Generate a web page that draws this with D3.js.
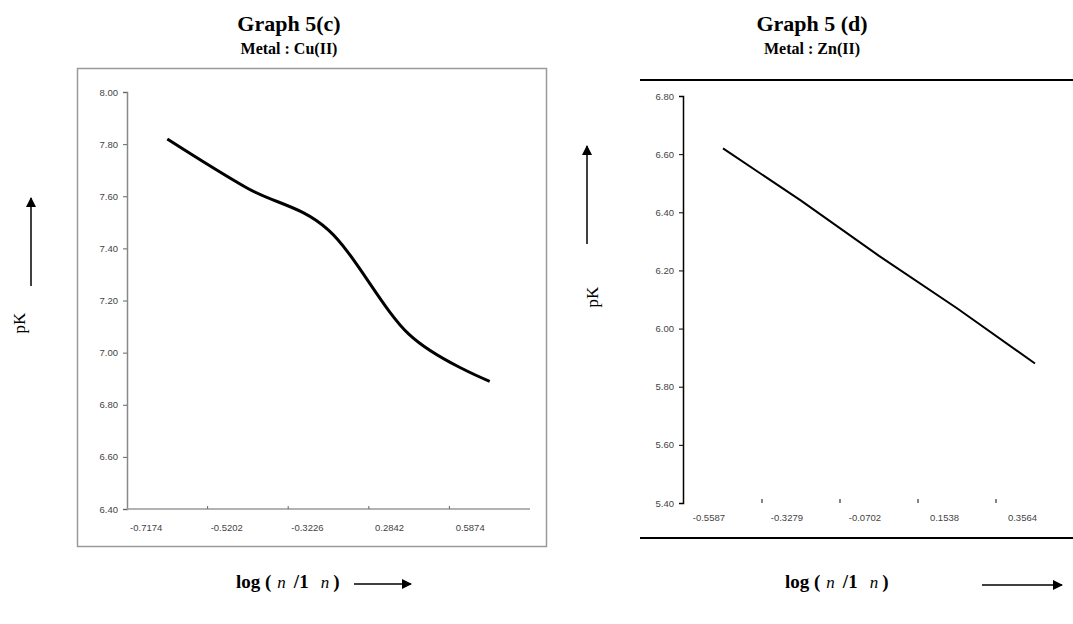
<!DOCTYPE html>
<html><head><meta charset="utf-8">
<script src="https://cdn.jsdelivr.net/npm/d3@7"></script>
<style>body{margin:0;background:#fff}</style>
</head><body>
<svg id="c" width="1073" height="624"></svg>
<script>
const cuCategories = ["-0.7174", "-0.5202", "-0.3226", "0.2842", "0.5874"];
const cuValues = [7.82, 7.63, 7.47, 7.07, 6.89];
const cuTicks = [8.00, 7.80, 7.60, 7.40, 7.20, 7.00, 6.80, 6.60, 6.40];

const znCategories = ["-0.5587", "-0.3279", "-0.0702", "0.1538", "0.3564"];
const znValues = [6.62, 6.44, 6.25, 6.07, 5.88];
const znTicks = [6.80, 6.60, 6.40, 6.20, 6.00, 5.80, 5.60, 5.40];

const svg = d3.select("#c");
const serif = "'Liberation Serif','DejaVu Serif',serif";
const sans = "'Liberation Sans',Arial,sans-serif";

svg.append("defs").append("marker").attr("id","ah").attr("viewBox","0 0 10 10")
  .attr("refX",9).attr("refY",5).attr("markerWidth",10).attr("markerHeight",10)
  .attr("markerUnits","userSpaceOnUse").attr("orient","auto")
  .append("path").attr("d","M0,0L10,5L0,10z").attr("fill","#000");

function arrow(x1,y1,x2,y2,w){
  svg.append("line").attr("x1",x1).attr("y1",y1).attr("x2",x2).attr("y2",y2)
    .attr("stroke","#000").attr("stroke-width",w||1.5).attr("marker-end","url(#ah)");
}

function titles(cx, t1, t2){
  svg.append("text").attr("x",cx).attr("y",31).attr("text-anchor","middle")
    .attr("font-family",serif).attr("font-weight","bold").attr("font-size",22).text(t1);
  svg.append("text").attr("x",cx).attr("y",54).attr("text-anchor","middle")
    .attr("font-family",serif).attr("font-weight","bold").attr("font-size",16).text(t2);
}

function xlabel(x){
  const t = svg.append("text").attr("x",x).attr("y",588)
    .attr("font-family",serif).attr("font-weight","bold").attr("font-size",19);
  t.append("tspan").text("log (");
  t.append("tspan").attr("dx",6).attr("font-style","italic").attr("font-weight","normal").attr("font-size",17).text("n");
  t.append("tspan").attr("dx",8).text("/1");
  t.append("tspan").attr("dx",12).attr("font-style","italic").attr("font-weight","normal").attr("font-size",17).text("n");
  t.append("tspan").attr("dx",4).text(")");
}

function ylabel(x,y){
  svg.append("text").attr("transform",`translate(${x},${y}) rotate(-90)`)
    .attr("text-anchor","middle").attr("font-family",serif).attr("font-size",17).text("pK");
}

// ---------- Left chart: Cu(II) ----------
titles(289, "Graph 5(c)", "Metal : Cu(II)");
svg.append("rect").attr("x",77.5).attr("y",68.5).attr("width",469).attr("height",478)
  .attr("fill","none").attr("stroke","#9a9a9a").attr("stroke-width",1.5);

const xL = d3.scaleBand().domain(cuCategories).range([127,530]).padding(0);
const yL = d3.scaleLinear().domain([6.40,8.00]).range([509,92]);

const gyL = svg.append("g").attr("transform","translate(127,0)")
  .call(d3.axisLeft(yL).tickValues(cuTicks).tickFormat(d3.format(".2f")).tickSize(4));
gyL.select(".domain").attr("stroke","#888").attr("stroke-width",1.5);
gyL.selectAll(".tick line").attr("stroke","#666");
gyL.selectAll("text").attr("font-family",sans).attr("font-size",9.5).attr("fill","#444").attr("dx",-2);

const gxL = svg.append("g").attr("transform","translate(0,509)");
gxL.append("line").attr("x1",127).attr("x2",530).attr("stroke","#999").attr("stroke-width",1.5);
gxL.selectAll("line.t").data(cuCategories.slice(1)).enter().append("line").attr("class","t")
  .attr("x1",d=>xL(d)).attr("x2",d=>xL(d)).attr("y1",0).attr("y2",-3).attr("stroke","#666");
gxL.selectAll("text").data(cuCategories).enter().append("text")
  .attr("x",d=>xL(d)+xL.bandwidth()/2-5).attr("y",22).attr("text-anchor","end")
  .attr("font-family",sans).attr("font-size",9.5).attr("fill","#444").text(d=>d);

svg.append("path").datum(cuValues)
  .attr("d", d3.line().x((d,i)=>xL(cuCategories[i])+xL.bandwidth()/2).y(d=>yL(d)).curve(d3.curveCatmullRom.alpha(0)))
  .attr("fill","none").attr("stroke","#000").attr("stroke-width",3);

ylabel(25, 323);
arrow(31, 286, 31, 198, 1.5);
xlabel(236);
arrow(354, 584, 411, 584, 1.5);

// ---------- Right chart: Zn(II) ----------
titles(812, "Graph 5 (d)", "Metal : Zn(II)");
svg.append("line").attr("x1",640).attr("x2",1073).attr("y1",80).attr("y2",80).attr("stroke","#000").attr("stroke-width",2);
svg.append("line").attr("x1",640).attr("x2",1073).attr("y1",538).attr("y2",538).attr("stroke","#000").attr("stroke-width",2);

const xR = d3.scaleBand().domain(znCategories).range([684,1074]).padding(0);
const yR = d3.scaleLinear().domain([5.40,6.80]).range([503,96]);

const gyR = svg.append("g").attr("transform","translate(683,0)")
  .call(d3.axisLeft(yR).tickValues(znTicks).tickFormat(d3.format(".2f")).tickSize(4));
gyR.select(".domain").attr("stroke","#000").attr("stroke-width",1.5);
gyR.selectAll(".tick line").attr("stroke","#000");
gyR.selectAll("text").attr("font-family",sans).attr("font-size",9.5).attr("fill","#444").attr("dx",-2);

const gxR = svg.append("g").attr("transform","translate(0,503)");
gxR.selectAll("line.t").data(znCategories.slice(1)).enter().append("line").attr("class","t")
  .attr("x1",d=>xR(d)).attr("x2",d=>xR(d)).attr("y1",0).attr("y2",-4).attr("stroke","#333").attr("stroke-width",1.2);
gxR.selectAll("text").data(znCategories).enter().append("text")
  .attr("x",d=>xR(d)+xR.bandwidth()/2+2).attr("y",18).attr("text-anchor","end")
  .attr("font-family",sans).attr("font-size",9.5).attr("fill","#444").text(d=>d);

svg.append("path").datum(znValues)
  .attr("d", d3.line().x((d,i)=>xR(znCategories[i])+xR.bandwidth()/2).y(d=>yR(d)))
  .attr("fill","none").attr("stroke","#000").attr("stroke-width",2);

ylabel(598, 297);
arrow(587, 244, 587, 146, 1.5);
xlabel(785);
arrow(982, 585, 1062, 585, 1.5);
</script>
</body></html>
